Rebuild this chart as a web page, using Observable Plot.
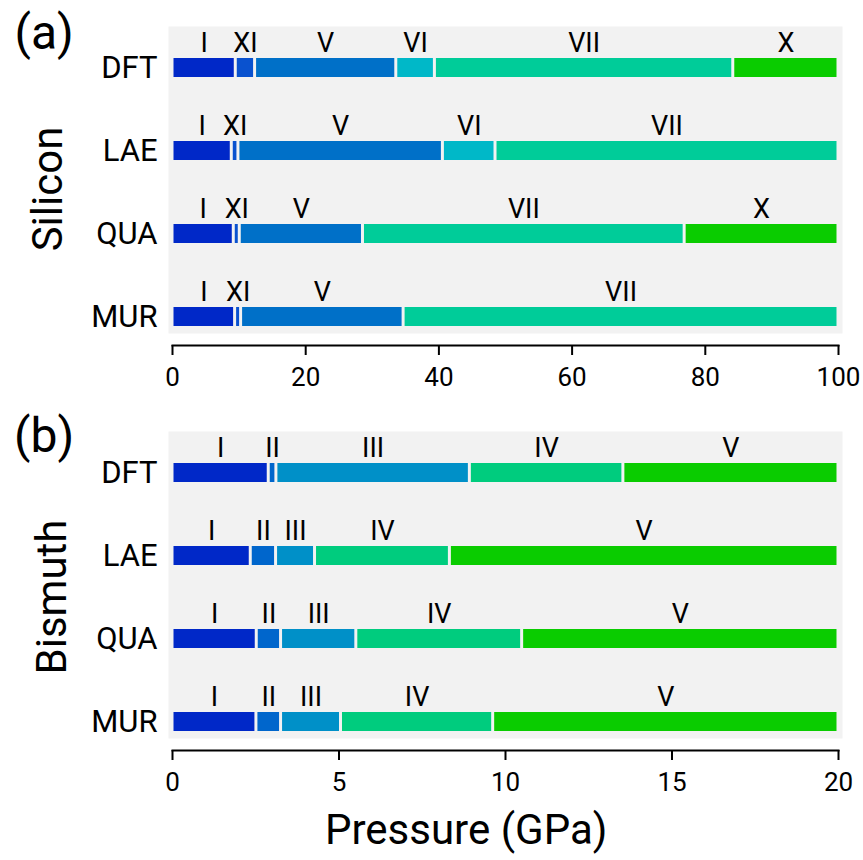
<!DOCTYPE html>
<html><head><meta charset="utf-8">
<script src="https://cdn.jsdelivr.net/npm/d3@7"></script>
<script src="https://cdn.jsdelivr.net/npm/@observablehq/plot@0.6"></script>
<style>
body{margin:0;background:#fff;font-family:Roboto,sans-serif;}
#wrap{position:relative;width:863px;height:860px;overflow:hidden;}
.panel{position:absolute;left:0;}
.lbl{position:absolute;color:#000;white-space:nowrap;line-height:1;font-family:Roboto,sans-serif;}
</style></head><body><div id="wrap"></div>
<script>
const methods = ["DFT", "LAE", "QUA", "MUR"];
const siTicks = [0, 20, 40, 60, 80, 100];
const biTicks = [0, 5, 10, 15, 20];

// Silicon phases and colours
const siPhaseNames = ["I", "XI", "V", "VI", "VII", "X"];
const siPhaseColors = ["#0028c8", "#0a52cf", "#0070c8", "#00b8c8", "#00cc99", "#0acc00"];
const siPhasesDFT = ["I", "XI", "V", "VI", "VII", "X"];
const siEdgesDFT = [0, 9.5, 12.4, 33.6, 39.4, 84.2, 100];
const siPhasesLAE = ["I", "XI", "V", "VI", "VII"];
const siEdgesLAE = [0, 8.9, 9.9, 40.6, 48.5, 100];
const siPhasesQUA = ["I", "XI", "V", "VII", "X"];
const siEdgesQUA = [0, 9.2, 10.1, 28.6, 76.9, 100];
const siPhasesMUR = ["I", "XI", "V", "VII"];
const siEdgesMUR = [0, 9.4, 10.3, 34.7, 100];

// Bismuth phases and colours
const biPhaseNames = ["I", "II", "III", "IV", "V"];
const biPhaseColors = ["#0028c8", "#0066cc", "#0090c8", "#00cc7e", "#0acc00"];
const biPhasesDFT = ["I", "II", "III", "IV", "V"];
const biEdgesDFT = [0, 2.89, 3.12, 8.93, 13.54, 20];
const biPhasesLAE = ["I", "II", "III", "IV", "V"];
const biEdgesLAE = [0, 2.35, 3.11, 4.28, 8.33, 20];
const biPhasesQUA = ["I", "II", "III", "IV", "V"];
const biEdgesQUA = [0, 2.53, 3.26, 5.52, 10.5, 20];
const biPhasesMUR = ["I", "II", "III", "IV", "V"];
const biEdgesMUR = [0, 2.52, 3.26, 5.06, 9.63, 20];

function segments(method, phases, edges) {
  return phases.map((p, i) => ({method, phase: p, x1: edges[i], x2: edges[i + 1], mid: (edges[i] + edges[i + 1]) / 2}));
}

const siData = [
  ...segments("DFT", siPhasesDFT, siEdgesDFT),
  ...segments("LAE", siPhasesLAE, siEdgesLAE),
  ...segments("QUA", siPhasesQUA, siEdgesQUA),
  ...segments("MUR", siPhasesMUR, siEdgesMUR)
];
const biData = [
  ...segments("DFT", biPhasesDFT, biEdgesDFT),
  ...segments("LAE", biPhasesLAE, biEdgesLAE),
  ...segments("QUA", biPhasesQUA, biEdgesQUA),
  ...segments("MUR", biPhasesMUR, biEdgesMUR)
];

function panel(data, ticks, names, colors) {
  return Plot.plot({
    width: 863, height: 400,
    marginLeft: 168, marginRight: 21, marginTop: 26, marginBottom: 55,
    x: {domain: [0, ticks[ticks.length - 1]], insetLeft: 4, insetRight: 4},
    y: {domain: methods, range: [25.8, 357.8], padding: 0},
    color: {domain: names, range: colors},
    style: {fontFamily: "Roboto, sans-serif", background: "transparent", color: "black", overflow: "visible"},
    marks: [
      Plot.frame({fill: "#f2f2f2", stroke: "none", insetBottom: 12}),
      Plot.barX(data, {x1: "x1", x2: "x2", y: "method", fill: "phase", insetTop: 32, insetBottom: 32, insetLeft: 1.5, insetRight: 1.5}),
      Plot.text(data, {x: "mid", y: "method", text: "phase", dy: -25, fontSize: 27, lineAnchor: "middle", fill: "black"}),
      Plot.axisX({ticks, tickSize: 10, tickPadding: 12, fontSize: 26, strokeWidth: 2, label: null, tickFormat: d => String(d)}),
      Plot.frame({anchor: "bottom", insetLeft: 4, insetRight: 4, strokeWidth: 2, stroke: "black"}),
      Plot.axisY({tickSize: 0, tickPadding: 11, fontSize: 31, label: null})
    ]
  });
}

const wrap = document.getElementById("wrap");
const p1 = panel(siData, siTicks, siPhaseNames, siPhaseColors);
p1.classList.add("panel"); p1.style.top = "0px";
wrap.appendChild(p1);
const p2 = panel(biData, biTicks, biPhaseNames, biPhaseColors);
p2.classList.add("panel"); p2.style.top = "405px";
wrap.appendChild(p2);

function addLabel(text, cx, cy, size, rotate) {
  const d = document.createElement("div");
  d.className = "lbl";
  d.textContent = text;
  d.style.fontSize = size + "px";
  wrap.appendChild(d);
  const w = d.offsetWidth, h = d.offsetHeight;
  d.style.left = (cx - w / 2) + "px";
  d.style.top = (cy - h / 2) + "px";
  if (rotate) d.style.transform = "rotate(-90deg)";
}
addLabel("(a)", 44, 33, 48, false);
addLabel("(b)", 44, 436, 48, false);
addLabel("Silicon", 48, 189, 42, true);
addLabel("Bismuth", 52, 597, 42, true);
addLabel("Pressure (GPa)", 466, 830, 42, false);
</script></body></html>
